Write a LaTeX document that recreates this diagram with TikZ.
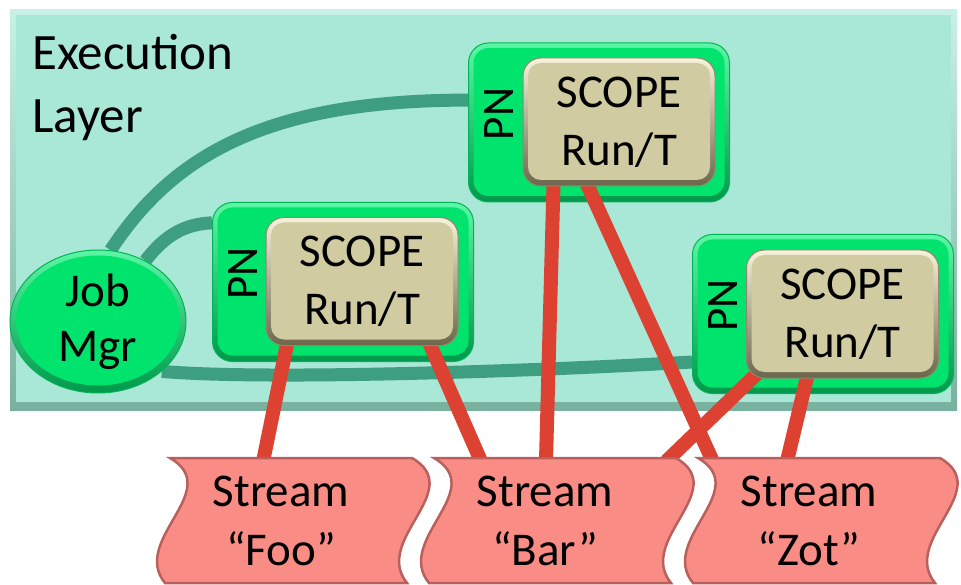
\documentclass[tikz,border=0pt]{standalone}
\usepackage{fontspec}
\setmainfont{Carlito}
\usetikzlibrary{calc,shapes.geometric}
\pgfdeclarelayer{back}\pgfdeclarelayer{conn}\pgfdeclarelayer{pnl}\pgfdeclarelayer{redl}
\pgfsetlayers{back,conn,pnl,redl,main}
\definecolor{bgteal}{HTML}{A9E7D7}
\definecolor{bglight}{HTML}{C8F1E5}
\definecolor{bgdark}{HTML}{79B19F}
\definecolor{gline}{HTML}{3E9E80}
\definecolor{pngreen}{HTML}{00E36C}
\definecolor{pnlight}{HTML}{5DF6A6}
\definecolor{pndark}{HTML}{00984A}
\definecolor{pnedge}{HTML}{00B553}
\definecolor{tanfill}{HTML}{D1CBA2}
\definecolor{tanlight}{HTML}{F6F2DC}
\definecolor{tandark}{HTML}{6B664C}
\definecolor{tanedge}{HTML}{8F8A69}
\definecolor{salmon}{HTML}{F98D86}
\definecolor{salmonedge}{HTML}{B9605C}
\definecolor{rline}{HTML}{DC4132}
\newcommand{\streampath}[1]{%
  \draw[streamshape] (#1,458) -- (#1+242,458)
    .. controls (#1+297,490) and (#1+202,540) .. (#1+237,583)
    -- (#1-5,583)
    .. controls (#1-40,540) and (#1+55,490) .. (#1,458) -- cycle;}
\begin{document}
\begin{tikzpicture}[x=1pt,y=-1pt,
  bigfont/.style={font=\fontsize{47}{58}\selectfont},
  pnbox/.style={draw=pnedge,line width=1pt,top color=pnlight,bottom color=pndark,
    rounded corners=20pt,minimum width=261pt,minimum height=159pt,inner sep=0pt,
    path picture={\fill[pngreen,rounded corners=15pt]
      ([shift={(5pt,-5pt)}]path picture bounding box.north west) rectangle
      ([shift={(-5pt,6pt)}]path picture bounding box.south east);}},
  scopebox/.style={draw=tanedge,line width=1pt,top color=tanlight,bottom color=tandark,
    rounded corners=18pt,minimum width=192pt,minimum height=128pt,inner sep=0pt,
    align=center,bigfont,
    path picture={\fill[tanfill,rounded corners=13pt]
      ([shift={(5pt,-5pt)}]path picture bounding box.north west) rectangle
      ([shift={(-5pt,6pt)}]path picture bounding box.south east);}},
  pnlabel/.style={rotate=90,inner sep=0pt,font=\fontsize{45}{50}\selectfont},
  jmell/.style={ellipse,draw=pnedge,line width=1pt,top color=pnlight,bottom color=pndark,
    minimum width=176pt,minimum height=143pt,inner sep=0pt,align=center,
    font=\fontsize{47}{55}\selectfont,
    path picture={\fill[pngreen] ([yshift=1pt]path picture bounding box.center)
      ellipse [x radius=82pt, y radius=65pt];}},
  streamshape/.style={draw=salmonedge,fill=salmon,line width=2.5pt},
  streamnode/.style={minimum width=242pt,minimum height=125pt,inner sep=0pt,
    align=center,font=\fontsize{47}{59}\selectfont},
  gconn/.style={draw=gline,line width=13pt},
  rconn/.style={draw=rline,line width=14pt}]
\useasboundingbox (0,0) rectangle (961,585);
\begin{pgfonlayer}{back}
  \fill[white] (0,0) rectangle (961,585);
  \shade[top color=bglight,bottom color=bgdark] (10,10) rectangle (957,410);
  \fill[bgteal] (16,15) rectangle (951,402);
\end{pgfonlayer}
\node[anchor=north west,inner sep=0pt,align=left,font=\fontsize{51}{63}\selectfont] (title) at (32,34) {Execution\\Layer};
% PN boxes
\begin{pgfonlayer}{pnl}
  \node[pnbox] (pn1) at (599,122.5) {};
  \node[pnbox] (pn3) at (343,282) {};
  \node[pnbox] (pn2) at (823,314) {};
\end{pgfonlayer}
\node[pnlabel] (pn1t) at ($(pn1.west)+(31,-8.5)$) {PN};
\node[pnlabel] (pn3t) at ($(pn3.west)+(31,-8.5)$) {PN};
\node[pnlabel] (pn2t) at ($(pn2.west)+(31,-8.5)$) {PN};
% SCOPE boxes
\node[scopebox] (s1) at (619,122) {SCOPE\\Run/T};
\node[scopebox] (s3) at (362,281.5) {SCOPE\\Run/T};
\node[scopebox] (s2) at (842.5,314) {SCOPE\\Run/T};
% Job manager
\node[jmell] (jm) at (98,321.5) {Job\\Mgr};
% Streams
\streampath{170}
\streampath{434}
\streampath{698}
\node[streamnode] (foo) at (281,521) {Stream\\“Foo”};
\node[streamnode] (bar) at (545,521) {Stream\\“Bar”};
\node[streamnode] (zot) at (809,521) {Stream\\“Zot”};
% green connectors
\begin{pgfonlayer}{conn}
  \draw[gconn] (jm.80) .. controls (170,160) and (260,100) .. ($(pn1.north west)!0.36!(pn1.south west)$);
  \draw[gconn] (jm.52) .. controls (165,235) and (185,224) .. ($(pn3.north west)!0.13!(pn3.south west)$);
  \draw[gconn] (jm.-38) .. controls (260,380) and (520,372) .. ($(pn2.north west)!0.8!(pn2.south west)$);
\end{pgfonlayer}
% red connectors
\begin{pgfonlayer}{redl}
  \draw[rconn] ($(s3.south west)!0.115!(s3.south east)+(0,-5)$) -- ($(foo.north west)!0.426!(foo.north east)+(0,3)$);
  \draw[rconn] ($(s3.south west)!0.844!(s3.south east)+(0,-5)$) -- ($(bar.north west)!0.236!(bar.north east)+(0,3)$);
  \draw[rconn] ($(s1.south west)!0.161!(s1.south east)+(0,-5)$) -- ($(bar.north west)!0.504!(bar.north east)+(0,3)$);
  \draw[rconn] ($(s1.south west)!0.328!(s1.south east)+(0,-5)$) -- ($(zot.north west)!0.103!(zot.north east)+(0,3)$);
  \draw[rconn] ($(s2.south west)+(19.5,-13)$) -- ($(bar.north west)!1.0!(bar.north east)+(0,3)$);
  \draw[rconn] ($(s2.south west)!0.321!(s2.south east)+(0,-5)$) -- ($(zot.north west)!0.409!(zot.north east)+(0,3)$);
\end{pgfonlayer}
\end{tikzpicture}
\end{document}
